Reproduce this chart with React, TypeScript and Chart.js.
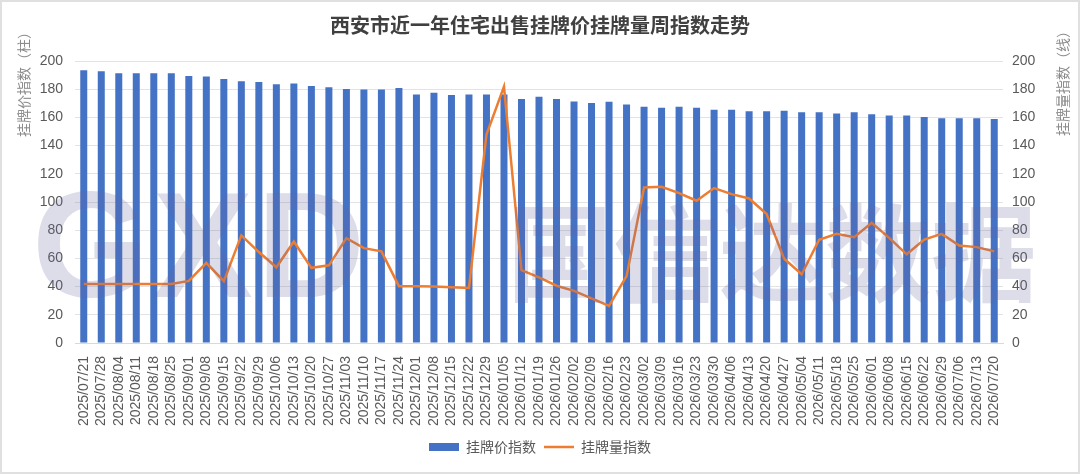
import { useEffect, useRef } from 'react';
import { Chart, registerables } from 'chart.js';

Chart.register(...registerables);

const weeks = [
    '2025/07/21', '2025/07/28', '2025/08/04', '2025/08/11', '2025/08/18', '2025/08/25',
    '2025/09/01', '2025/09/08', '2025/09/15', '2025/09/22', '2025/09/29', '2025/10/06',
    '2025/10/13', '2025/10/20', '2025/10/27', '2025/11/03', '2025/11/10', '2025/11/17',
    '2025/11/24', '2025/12/01', '2025/12/08', '2025/12/15', '2025/12/22', '2025/12/29',
    '2026/01/05', '2026/01/12', '2026/01/19', '2026/01/26', '2026/02/02', '2026/02/09',
    '2026/02/16', '2026/02/23', '2026/03/02', '2026/03/09', '2026/03/16', '2026/03/23',
    '2026/03/30', '2026/04/06', '2026/04/13', '2026/04/20', '2026/04/27', '2026/05/04',
    '2026/05/11', '2026/05/18', '2026/05/25', '2026/06/01', '2026/06/08', '2026/06/15',
    '2026/06/22', '2026/06/29', '2026/07/06', '2026/07/13', '2026/07/20',
];

// 挂牌价指数（柱）
const priceIndex = [
    193.5, 192.8, 191.4, 191.4, 191.4, 191.4, 189.4, 189.0, 187.3, 185.6, 185.1, 183.5,
    184.0, 182.3, 181.4, 180.2, 179.7, 179.7, 180.8, 176.3, 177.5, 175.8, 176.3, 176.3,
    176.3, 173.0, 174.7, 173.0, 171.3, 170.2, 171.1, 169.2, 167.6, 166.9, 167.6, 166.9,
    165.5, 165.5, 164.3, 164.3, 164.8, 163.6, 163.6, 162.7, 163.6, 162.2, 161.3, 161.3,
    160.3, 159.4, 159.4, 159.4, 158.9,
];

// 挂牌量指数（线）
const listingIndex = [
    41.8, 41.8, 41.8, 41.8, 41.8, 41.8, 44.0, 56.8, 43.9, 76.3, 64.5, 53.7,
    72.0, 53.3, 55.1, 74.4, 67.3, 65.0, 40.3, 40.3, 40.1, 39.5, 39.0, 147.9,
    181.9, 51.6, 46.5, 40.6, 37.0, 31.7, 26.3, 47.4, 110.3, 110.8, 106.3, 100.9,
    109.9, 105.6, 102.5, 91.5, 59.8, 48.8, 73.2, 77.4, 75.1, 85.2, 74.6, 62.9,
    73.4, 77.4, 69.2, 68.0, 65.0,
];

const axisMin = 0;
const axisMax = 200;
const axisStep = 20;

const tickFont = { family: '"Liberation Sans", Arial, sans-serif', size: 14 };
const cjkFont = '"Noto Sans CJK SC", "Noto Sans", sans-serif';

export default function App() {
    const chartRef = useRef<HTMLCanvasElement>(null);
    const chartInstance = useRef<Chart | null>(null);

    useEffect(() => {
        if (!chartRef.current) return;
        if (chartInstance.current) {
            chartInstance.current.destroy();
        }
        const ctx = chartRef.current.getContext('2d');
        if (!ctx) return;

        chartInstance.current = new Chart(ctx, {
            type: 'bar',
            data: {
                labels: weeks,
                datasets: [
                    {
                        type: 'bar',
                        label: '挂牌价指数',
                        data: priceIndex,
                        backgroundColor: '#4472C4',
                        borderWidth: 0,
                        barPercentage: 0.4,
                        categoryPercentage: 1,
                        yAxisID: 'y',
                        pointStyle: 'rect',
                        order: 2,
                    },
                    {
                        type: 'line',
                        label: '挂牌量指数',
                        data: listingIndex,
                        borderColor: '#ED7D31',
                        backgroundColor: '#ED7D31',
                        borderWidth: 2.5,
                        pointRadius: 0,
                        tension: 0,
                        yAxisID: 'y1',
                        pointStyle: 'line',
                        order: 1,
                    },
                ],
            },
            options: {
                animation: false,
                responsive: false,
                maintainAspectRatio: false,
                layout: { padding: { left: 0, right: 0, top: 0, bottom: 8 } },
                plugins: {
                    title: {
                        display: true,
                        text: '西安市近一年住宅出售挂牌价挂牌量周指数走势',
                        color: '#404040',
                        font: { family: cjkFont, size: 20, weight: 'bold' },
                        padding: { top: 11, bottom: 24 },
                    },
                    legend: {
                        position: 'bottom',
                        labels: {
                            usePointStyle: true,
                            pointStyleWidth: 30,
                            boxHeight: 8,
                            padding: 8,
                            color: '#595959',
                            font: { family: cjkFont, size: 14 },
                            sort: (a, b) => (a.datasetIndex ?? 0) - (b.datasetIndex ?? 0),
                        },
                    },
                    tooltip: { enabled: false },
                },
                scales: {
                    x: {
                        grid: { display: false, drawTicks: false },
                        border: { display: true, color: '#d9d9d9' },
                        ticks: {
                            autoSkip: false,
                            maxRotation: 90,
                            minRotation: 90,
                            padding: 13,
                            color: '#595959',
                            font: tickFont,
                        },
                        afterFit: (scale) => {
                            scale.height = 89;
                        },
                    },
                    y: {
                        position: 'left',
                        min: axisMin,
                        max: axisMax,
                        ticks: {
                            stepSize: axisStep,
                            padding: 12,
                            color: '#595959',
                            font: tickFont,
                        },
                        grid: { color: '#e3e3e3', drawTicks: false },
                        border: { display: false },
                        afterFit: (scale) => {
                            scale.width = 73;
                        },
                    },
                    y1: {
                        position: 'right',
                        min: axisMin,
                        max: axisMax,
                        ticks: {
                            stepSize: axisStep,
                            padding: 9,
                            color: '#595959',
                            font: tickFont,
                        },
                        grid: { drawOnChartArea: false, drawTicks: false },
                        border: { display: false },
                        afterFit: (scale) => {
                            scale.width = 75;
                        },
                    },
                },
            },
        });

        return () => {
            if (chartInstance.current) {
                chartInstance.current.destroy();
                chartInstance.current = null;
            }
        };
    }, []);

    const axisTitle: React.CSSProperties = {
        position: 'absolute',
        transform: 'translate(-50%, -50%) rotate(-90deg)',
        whiteSpace: 'nowrap',
        fontFamily: cjkFont,
        fontSize: 14,
        color: '#8c8c8c',
    };

    const watermark: React.CSSProperties = {
        position: 'absolute',
        fontWeight: 'bold',
        color: 'rgba(100, 100, 160, 0.22)',
        pointerEvents: 'none',
    };

    return (
        <div
            style={{
                position: 'absolute',
                left: 0,
                top: 0,
                width: 1080,
                height: 474,
                boxSizing: 'border-box',
                border: '2px solid #e0e0e0',
                background: '#fff',
                overflow: 'hidden',
            }}
        >
            <canvas ref={chartRef} width={1076} height={470}></canvas>
            <div style={{ ...axisTitle, left: 21, top: 79 }}>挂牌价指数（柱）</div>
            <div style={{ ...axisTitle, left: 1060, top: 78 }}>挂牌量指数（线）</div>
            <div
                style={{
                    ...watermark,
                    left: 30,
                    top: 168,
                    fontFamily: '"Liberation Sans", Arial, sans-serif',
                    fontSize: 150,
                    lineHeight: '150px',
                    letterSpacing: 4,
                }}
            >
                GXD
            </div>
            <div
                style={{
                    ...watermark,
                    left: 505,
                    top: 180,
                    fontFamily: cjkFont,
                    fontSize: 106,
                    lineHeight: '130px',
                }}
            >
                国信达数据
            </div>
        </div>
    );
}
